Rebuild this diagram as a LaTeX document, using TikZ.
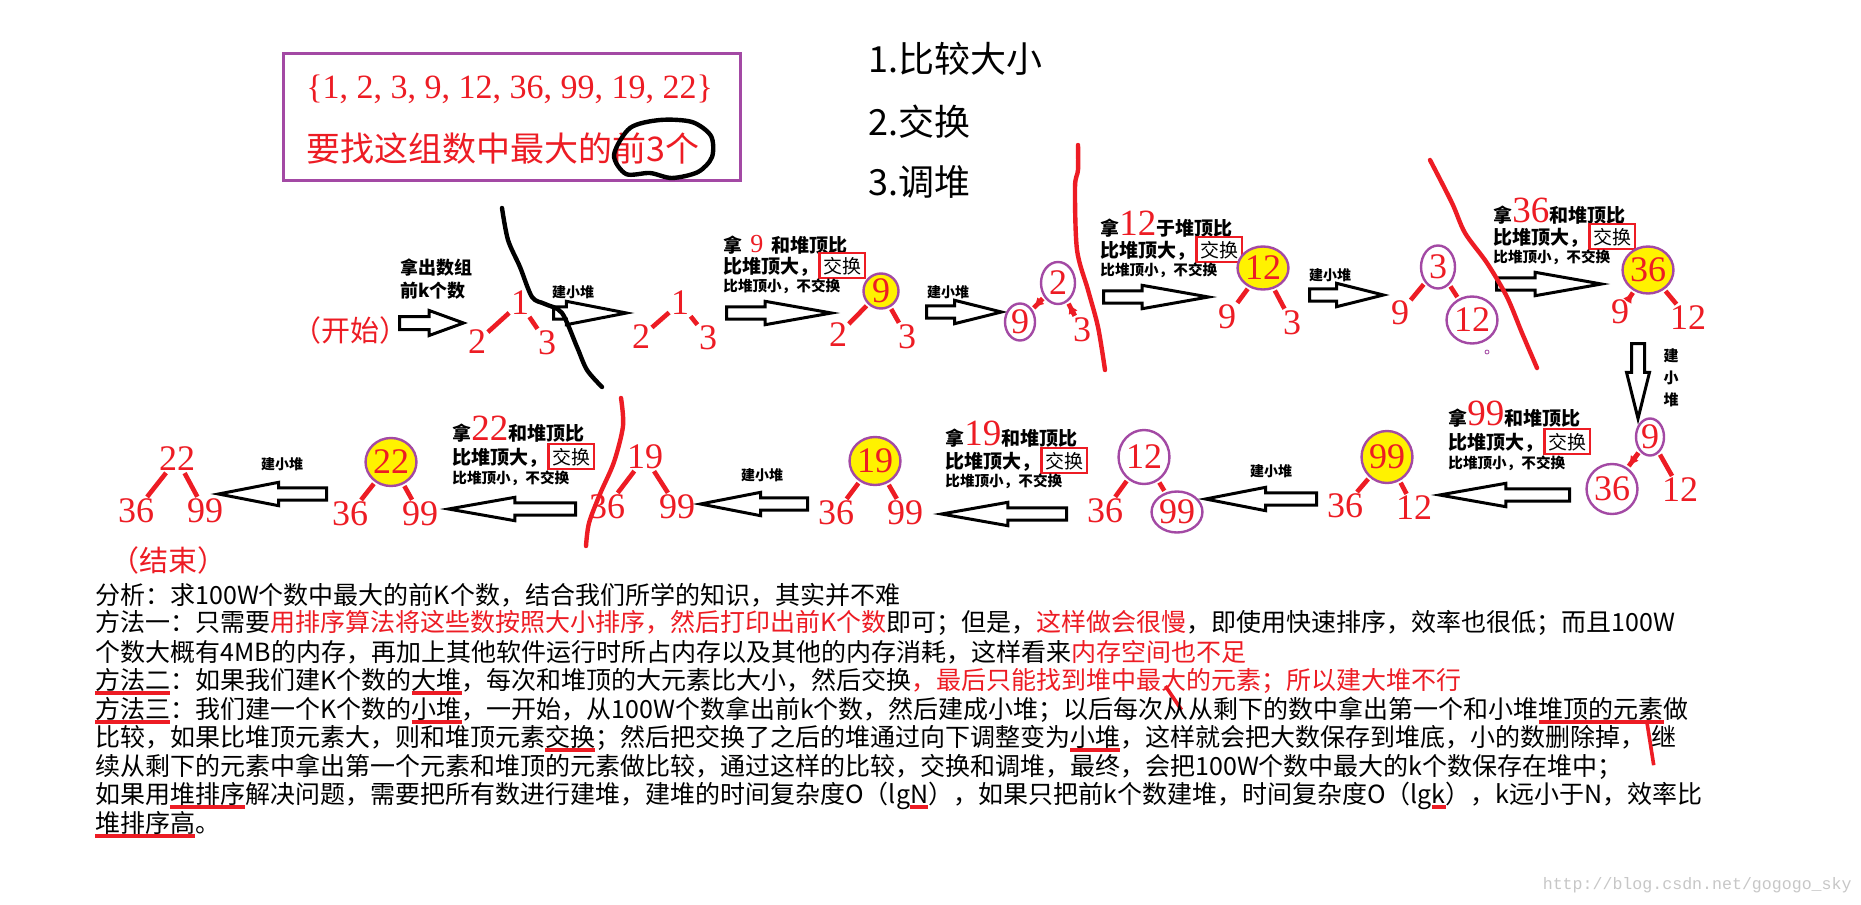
\documentclass[tikz,border=0pt]{standalone}
\usepackage{fontspec}
\usepackage{xcolor}
\usepackage{graphicx}
\usetikzlibrary{arrows.meta,positioning,shapes.geometric,shapes.arrows}
\setmainfont{Noto Sans CJK SC}
\newfontfamily\numfont{Liberation Serif}
\newfontfamily\urlfont{Liberation Mono}
\definecolor{paintred}{RGB}{237,28,36}
\definecolor{paintpurple}{RGB}{163,73,164}
\definecolor{paintyellow}{RGB}{255,242,0}
\setlength{\fboxrule}{1.2pt}
\setlength{\fboxsep}{1.2pt}
\newcommand{\bignum}[1]{{\numfont\mdseries\fontsize{18.5}{18.5}\selectfont\color{paintred}#1}}
\newcommand{\swapbox}{\fcolorbox{paintred}{white}{\mdseries 交换}}
\newcommand{\redtext}[1]{{\color{paintred}#1}}
\newsavebox{\ulbox}
\newcommand{\redul}[1]{\sbox{\ulbox}{#1}\rlap{\color{paintred}\rule[-3pt]{\wd\ulbox}{1.8pt}}\usebox{\ulbox}}
\newcommand{\slashmark}{\rlap{\color{paintred}\raisebox{15.5pt}{\rotatebox{-56}{\rule{14.4pt}{1.8pt}}}}}
\newcommand{\hookmark}{\rlap{\color{paintred}\raisebox{11pt}{\rotatebox{-81}{\rule{21pt}{1.8pt}}}}}

\begin{document}
\begin{tikzpicture}[
    x=0.5pt, y=-0.5pt,
    num/.style={font=\numfont\fontsize{18}{18}\selectfont, text=paintred, inner sep=0pt},
    ring/.style={num, ellipse, draw=paintpurple, line width=1.2pt, inner sep=0pt},
    hot/.style={ring, fill=paintyellow},
    edge/.style={draw=paintred, line width=2.3pt, shorten <=1pt, shorten >=1pt},
    hollow/.style={single arrow, draw=black, line width=1.5pt, fill=white, inner xsep=0pt,
      inner ysep=2.3pt, single arrow head extend=2.8pt, anchor=tail},
    note/.style={font=\fontsize{9.5}{10}\selectfont\bfseries, anchor=base west, inner sep=0pt},
    notesmall/.style={font=\fontsize{7.3}{8}\selectfont\bfseries, anchor=base west, inner sep=0pt},
    build/.style={font=\fontsize{7}{8}\selectfont\bfseries, inner sep=0pt},
    body/.style={font=\fontsize{12.5}{14}\selectfont, anchor=base west, inner sep=0pt},
    scrib/.style={line width=2.2pt, line cap=round, line join=round}
  ]
    \path[use as bounding box, fill=white] (0,0) rectangle (1861,904);

    % task box and the three steps
    \node[draw=paintpurple, line width=1.5pt, minimum width=228.5pt, minimum height=63pt, inner sep=0pt] (task) at (512,117) {};
    \node[anchor=base west, inner sep=0pt, text=paintred, font=\numfont\fontsize{17}{17}\selectfont] (set) at (306,98) {\{1, 2, 3, 9, 12, 36, 99, 19, 22\}};
    \node[anchor=base west, inner sep=0pt, text=paintred, font=\fontsize{17}{17}\selectfont] (goal) at (306,162) {要找这组数中最大的前3个};
    \draw[scrib] plot[smooth cycle] coordinates {(614,155) (630,128) (660,120) (692,122) (711,136) (712,157) (698,172) (672,178) (650,173) (626,174)};
    \node[anchor=base west, inner sep=0pt, font=\fontsize{18}{18}\selectfont] (step1) at (868,73) {1.比较大小};
    \node[anchor=base west, inner sep=0pt, font=\fontsize{18}{18}\selectfont] (step2) at (868,135) {2.交换};
    \node[anchor=base west, inner sep=0pt, font=\fontsize{18}{18}\selectfont] (step3) at (868,195) {3.调堆};

    % first row
    \node[anchor=base west, inner sep=0pt, text=paintred, font=\fontsize{14.5}{15}\selectfont] (start) at (292,341) {（开始）};
    \node[align=left, anchor=west, inner sep=0pt, font=\fontsize{9}{11.5}\selectfont\bfseries] (take) at (400,279) {拿出数组\\前k个数};
    \node[hollow, minimum height=32pt, single arrow tip angle=40, inner ysep=2.5pt, single arrow head extend=3pt] (a1) at (398,323) {};
    \node[num] (t1) at (520,303) {1};
    \node[num] (t1l) at (477,342) {2};
    \node[num] (t1r) at (547,343) {3};
    \node[build] (b1) at (573,292) {建小堆};
    \node[hollow, minimum height=36.5pt, single arrow tip angle=22] (a2) at (552,313) {};
    \node[num] (t2) at (680,303) {1};
    \node[num] (t2l) at (641,337) {2};
    \node[num] (t2r) at (708,338) {3};
    \node[note] (ask9) at (723,252) {拿\hspace{4pt}{\numfont\mdseries\fontsize{13}{13}\selectfont\color{paintred}9}\hspace{4pt}和堆顶比};
    \node[note] (big9) at (723,273) {比堆顶大，\swapbox};
    \node[notesmall] (small9) at (723,291) {比堆顶小，不交换};
    \node[hollow, minimum height=52.5pt, single arrow tip angle=20] (a3) at (725,313) {};
    \node[hot, minimum width=17.5pt, minimum height=17.5pt] (t3) at (881,291) {9};
    \node[num] (t3l) at (838,335) {2};
    \node[num] (t3r) at (907,337) {3};
    \node[build] (b2) at (948,292) {建小堆};
    \node[hollow, minimum height=37.5pt, single arrow tip angle=28] (a4) at (925,312) {};
    \node[ring, minimum width=17pt, minimum height=21pt] (t4) at (1058,283) {2};
    \node[ring, minimum width=15pt, minimum height=18.5pt] (t4l) at (1020,322) {9};
    \node[num] (t4r) at (1082,330) {3};
    \node[note] (ask12) at (1100,235) {拿\bignum{12}于堆顶比};
    \node[note] (big12) at (1100,257) {比堆顶大，\swapbox};
    \node[notesmall] (small12) at (1100,275) {比堆顶小，不交换};
    \node[hollow, minimum height=52.5pt, single arrow tip angle=20] (a5) at (1102,297) {};
    \node[hot, minimum width=21.5pt, minimum height=21.5pt] (t5) at (1263,268) {12};
    \node[num] (t5l) at (1227,317) {9};
    \node[num] (t5r) at (1292,323) {3};
    \node[build] (b3) at (1330,275) {建小堆};
    \node[hollow, minimum height=37pt, single arrow tip angle=28] (a6) at (1308,295) {};
    \node[ring, minimum width=17pt, minimum height=21.5pt] (t6) at (1438,267) {3};
    \node[num] (t6l) at (1400,313) {9};
    \node[ring, minimum width=21.5pt, minimum height=23.5pt] (t6r) at (1472,320) {12};
    \node[circle, draw=paintpurple, inner sep=0pt, minimum size=2pt] (dot) at (1487,352) {};
    \node[note] (ask36) at (1493,222) {拿\bignum{36}和堆顶比};
    \node[note] (big36) at (1493,244) {比堆顶大，\swapbox};
    \node[notesmall] (small36) at (1493,262) {比堆顶小，不交换};
    \node[hollow, minimum height=52.5pt, single arrow tip angle=20] (a7) at (1495,284) {};
    \node[hot, minimum width=23.5pt, minimum height=23.5pt] (t7) at (1648,270) {36};
    \node[num] (t7l) at (1620,312) {9};
    \node[num] (t7r) at (1688,318) {12};

    % turn down
    \node[hollow, minimum height=37.5pt, single arrow tip angle=28, shape border rotate=270,
      inner xsep=2.5pt, inner ysep=0pt, single arrow head extend=2.5pt] (a8) at (1638,342) {};
    \node[build, align=center, font=\fontsize{7.5}{11}\selectfont\bfseries] (b4) at (1671,378) {建\\小\\堆};

    % second row
    \node[ring, minimum width=14pt, minimum height=18.5pt] (t8) at (1650,437) {9};
    \node[ring, minimum width=22pt, minimum height=25pt] (t8l) at (1612,489) {36};
    \node[num] (t8r) at (1680,490) {12};
    \node[note] (ask99) at (1448,425) {拿\bignum{99}和堆顶比};
    \node[note] (big99) at (1448,449) {比堆顶大，\swapbox};
    \node[notesmall] (small99) at (1448,468) {比堆顶小，不交换};
    \node[hollow, minimum height=65pt, single arrow tip angle=20, shape border rotate=180] (a9) at (1571,495) {};
    \node[hot, minimum width=24pt, minimum height=26pt] (t9) at (1387,457) {99};
    \node[num] (t9l) at (1345,506) {36};
    \node[num] (t9r) at (1414,508) {12};
    \node[build] (b5) at (1271,471) {建小堆};
    \node[hollow, minimum height=55.5pt, single arrow tip angle=22, shape border rotate=180] (a10) at (1318,499) {};
    \node[ring, minimum width=20.5pt, minimum height=27pt] (t10) at (1144,457) {12};
    \node[num] (t10l) at (1105,511) {36};
    \node[ring, minimum width=20.5pt, minimum height=20.5pt] (t10r) at (1177,512) {99};
    \node[note] (ask19) at (945,445) {拿\bignum{19}和堆顶比};
    \node[note] (big19) at (945,468) {比堆顶大，\swapbox};
    \node[notesmall] (small19) at (945,486) {比堆顶小，不交换};
    \node[hollow, minimum height=62.5pt, single arrow tip angle=20, shape border rotate=180] (a11) at (1068,514) {};
    \node[hot, minimum width=23pt, minimum height=24pt] (t11) at (875,461) {19};
    \node[num] (t11l) at (836,513) {36};
    \node[num] (t11r) at (905,513) {99};
    \node[build] (b6) at (762,475) {建小堆};
    \node[hollow, minimum height=53.5pt, single arrow tip angle=22, shape border rotate=180] (a12) at (809,504) {};
    \node[num] (t12) at (645,457) {19};
    \node[num] (t12l) at (607,507) {36};
    \node[num] (t12r) at (677,507) {99};
    \node[note] (ask22) at (452,440) {拿\bignum{22}和堆顶比};
    \node[note] (big22) at (452,464) {比堆顶大，\swapbox};
    \node[notesmall] (small22) at (452,483) {比堆顶小，不交换};
    \node[hollow, minimum height=63.5pt, single arrow tip angle=20, shape border rotate=180] (a13) at (577,509) {};
    \node[hot, minimum width=25pt, minimum height=24pt] (t13) at (391,462) {22};
    \node[num] (t13l) at (350,514) {36};
    \node[num] (t13r) at (420,514) {99};
    \node[build] (b7) at (282,464) {建小堆};
    \node[hollow, minimum height=54pt, single arrow tip angle=22, shape border rotate=180] (a14) at (328,494) {};
    \node[num] (t14) at (177,459) {22};
    \node[num] (t14l) at (136,511) {36};
    \node[num] (t14r) at (205,511) {99};

    % tree edges
    \foreach \t in {t1,t2,t3,t4,t5,t6,t7,t8,t9,t10,t11,t12,t13,t14} {
      \draw[edge] (\t) -- (\t l);
      \draw[edge] (\t) -- (\t r);
    }
    \draw[edge, -{Latex[length=5pt,width=5pt]}] (t4) -- (t4l);
    \draw[edge, -{Latex[length=5pt,width=5pt]}] (t4r) -- (t4);
    \draw[edge, -{Latex[length=5pt,width=5pt]}] (t7l) -- (t7);
    \draw[edge, -{Latex[length=5pt,width=5pt]}] (t8) -- (t8l);

    % hand-drawn strokes
    \draw[scrib] plot[smooth] coordinates {(502,208) (508,240) (520,267) (532,297) (545,304) (562,313) (577,347) (587,370) (602,387)};
    \draw[scrib, paintred] plot[smooth] coordinates {(1078,145) (1078,170) (1075,187) (1077,250) (1088,290) (1098,327) (1105,370)};
    \draw[scrib, paintred] plot[smooth] coordinates {(1430,160) (1452,203) (1465,233) (1487,263) (1507,297) (1522,333) (1537,368)};
    \draw[scrib, paintred] plot[smooth] coordinates {(621,398) (623,426) (614,462) (600,494) (589,523) (586,546)};

    % analysis
    \node[anchor=base west, inner sep=0pt, text=paintred, font=\fontsize{14.5}{15}\selectfont] (end) at (110,571) {（结束）};
    \node[body] (l1) at (95,604) {分析：求100W个数中最大的前K个数，结合我们所学的知识，其实并不难};
    \node[body] (l2) at (95,631) {方法一：只需要\redtext{用排序算法将这些数按照大小排序，然后打印出前K个数}即可；但是，\redtext{这样做会很慢}，即使用快速排序，效率也很低；而且100W};
    \node[body] (l3) at (95,661) {个数大概有4MB的内存，再加上其他软件运行时所占内存以及其他的内存消耗，这样看来\redtext{内存空间也不足}};
    \node[body] (l4) at (95,689) {\redul{方法二}：如果我们建K个数的\redul{大堆}，每次和堆顶的大元素比大小，然后交换\redtext{，最后只能找到堆中最大的元素；所以建大堆不行}};
    \node[body] (l5) at (95,718) {\redul{方法三}：我们建一个K个数的\redul{小堆}，一开始，从100W个数拿出前k个数，然后建成小堆；以后每次\slashmark 从从剩下的数中拿出第一个和小堆\redul{堆顶的元素}做};
    \node[body] (l6) at (95,746) {比较，如果比堆顶元素大，则和堆顶元素\redul{交换}；然后把交换了之后的堆通过向下调整变为\redul{小堆}，这样就会把大数保存到堆底，小的数删除掉，\hookmark\hspace{3pt}继};
    \node[body] (l7) at (95,775) {续从剩下的元素中拿出第一个元素和堆顶的元素做比较，通过这样的比较，交换和调堆，最终，会把100W个数中最大的k个数保存在堆中；};
    \node[body] (l8) at (95,803) {如果用\redul{堆排序}解决问题，需要把所有数进行建堆，建堆的时间复杂度O（lg\redul{N}），如果只把前k个数建堆，时间复杂度O（lg\redul{k}），k远小于N，效率比};
    \node[body] (l9) at (95,832) {\redul{堆排序高}。};
    \node[anchor=base east, inner sep=0pt, text=black!22, font=\urlfont\fontsize{8.3}{9}\selectfont] (url) at (1852,889) {http://blog.csdn.net/gogogo\_sky};
  \end{tikzpicture}
\end{document}
